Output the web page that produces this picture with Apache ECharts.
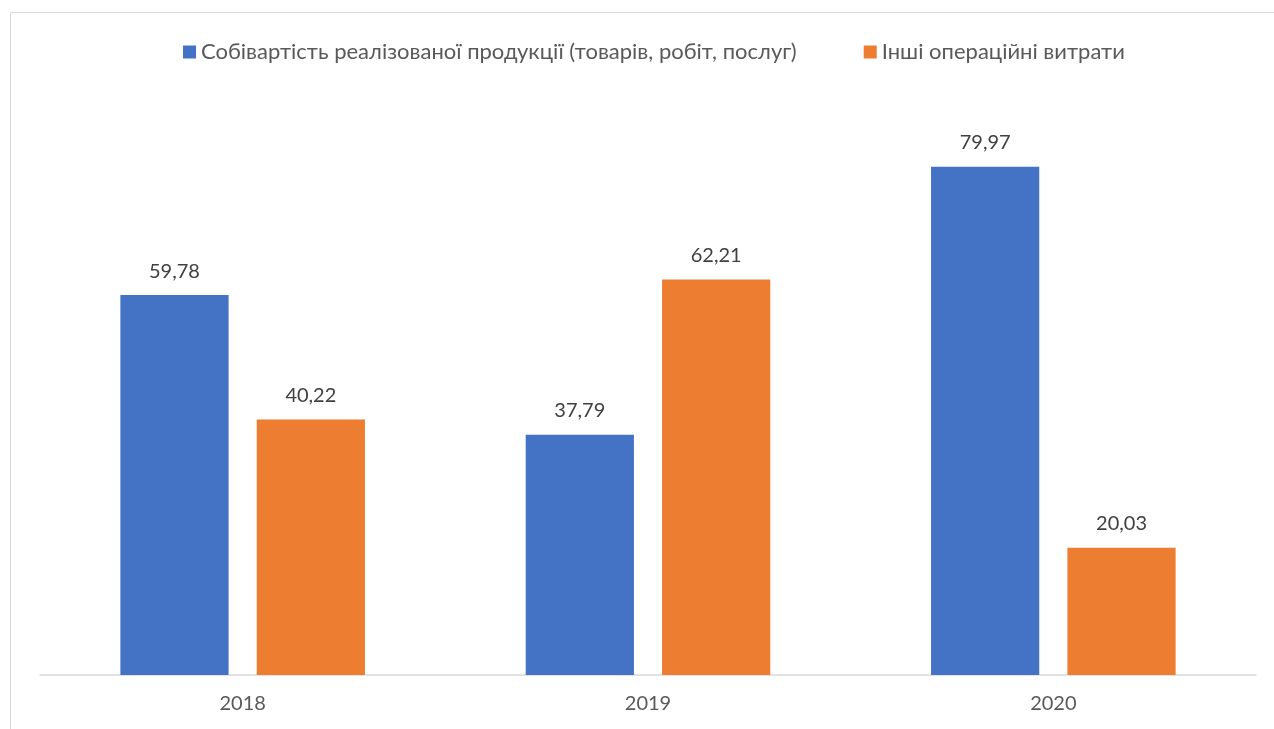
<!DOCTYPE html>
<html><head><meta charset="utf-8">
<script src="https://cdn.jsdelivr.net/npm/echarts@6/dist/echarts.min.js"></script>
<style>html,body{margin:0;padding:0;background:#fff}#c{width:1274px;height:729px}</style>
</head><body><div id="c"></div>
<script>
const categories = ['2018', '2019', '2020'];
const seriesNames = ['Собівартість реалізованої продукції (товарів, робіт, послуг)', 'Інші операційні витрати'];
const costOfSales = [59.78, 37.79, 79.97];
const otherExpenses = [40.22, 62.21, 20.03];

const chart = echarts.init(document.getElementById('c'));
const fmt = p => p.value.toFixed(2).replace('.', ',');
const font = 'Lato, "Open Sans", sans-serif';
chart.setOption({
  animation: false,
  graphic: [{type: 'rect', shape: {x: 10.5, y: 12.5, width: 1300, height: 800}, style: {fill: 'none', stroke: '#d9d9d9', lineWidth: 1}, silent: true}],
  legend: {
    top: 36, left: 178, itemWidth: 13, itemHeight: 13, itemGap: 67,
    icon: 'rect',
    textStyle: {fontFamily: font, fontSize: 22, color: '#595959', padding: [0, 0, 0, 0]},
    data: seriesNames
  },
  grid: {left: 40, right: 18, top: 103, bottom: 54},
  xAxis: {
    type: 'category', data: categories,
    axisLine: {lineStyle: {color: '#d9d9d9', width: 1.5}},
    axisTick: {show: false},
    axisLabel: {fontFamily: font, fontSize: 20, color: '#595959', margin: 19}
  },
  yAxis: {type: 'value', min: 0, max: 90, show: false, splitLine: {show: false}},
  series: [
    {name: seriesNames[0], type: 'bar', data: costOfSales, barWidth: '26.7%', barGap: '26%',
     itemStyle: {color: '#4472c4'},
     label: {show: true, position: 'top', distance: 14, formatter: fmt, fontFamily: font, fontSize: 20, color: '#404040'}},
    {name: seriesNames[1], type: 'bar', data: otherExpenses, barWidth: '26.7%',
     itemStyle: {color: '#ed7d31'},
     label: {show: true, position: 'top', distance: 14, formatter: fmt, fontFamily: font, fontSize: 20, color: '#404040'}}
  ]
});
</script></body></html>
